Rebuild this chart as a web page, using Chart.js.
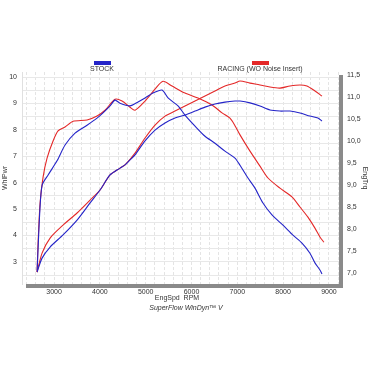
<!DOCTYPE html>
<html>
<head>
<meta charset="utf-8">
<script src="https://cdn.jsdelivr.net/npm/chart.js@4/dist/chart.umd.min.js"></script>
<style>
html,body{margin:0;padding:0;background:#fff;}
#wrap{width:370px;height:370px;}
</style>
</head>
<body>
<div id="wrap"><canvas id="c" width="370" height="370"></canvas></div>
<script>
// ---- data ----
const seriesNames = ["STOCK", "RACING (WO Noise Insert)"];
const xTitle = "EngSpd  RPM";
const footerText = "SuperFlow WinDyn\u2122 V";
const leftTitle = "WhlPwr";
const rightTitle = "EngTrq";

const stockTrqRpm = [2630,2690,2740,2870,3065,3240,3458,3720,3938,4069,4222,4331,4440,4658,4833,4986,5160,5357,5488,5706,5858,6077,6295,6513,6731,6949,7059,7233,7386,7560,7757,7997,8215,8412,8586,8695,8804,8848];
const stockTrq    = [7.05,8.43,9.00,9.23,9.55,9.91,10.18,10.36,10.52,10.64,10.80,10.93,10.86,10.80,10.89,10.98,11.09,11.16,10.98,10.80,10.59,10.34,10.11,9.95,9.77,9.61,9.45,9.16,8.93,8.59,8.32,8.09,7.86,7.68,7.45,7.23,7.07,6.98];

const racingTrqRpm = [2629,2651,2695,2760,2847,2978,3087,3240,3415,3720,3938,4113,4331,4484,4658,4767,4986,5204,5378,5575,5858,6142,6448,6666,6840,6949,7059,7277,7495,7670,7931,8193,8368,8542,8695,8804,8891];
const racingTrq    = [7.02,7.68,8.59,9.18,9.61,10.00,10.23,10.32,10.45,10.48,10.57,10.70,10.95,10.91,10.77,10.70,10.91,11.18,11.36,11.25,11.09,10.98,10.82,10.64,10.52,10.35,10.14,9.77,9.43,9.16,8.93,8.73,8.50,8.27,8.02,7.82,7.70];

const stockPwrRpm = [2629,2738,2913,3196,3502,3786,4004,4222,4440,4549,4658,4767,4986,5204,5422,5640,5858,6077,6295,6513,6731,6949,7059,7277,7495,7713,7931,8150,8368,8586,8760,8848];
const stockPwr    = [2.61,3.14,3.56,4.02,4.58,5.23,5.72,6.29,6.55,6.67,6.86,7.05,7.58,7.99,8.26,8.45,8.56,8.71,8.86,8.98,9.05,9.09,9.09,9.02,8.90,8.75,8.71,8.71,8.64,8.52,8.45,8.33];

const racingPwrRpm = [2629,2738,2913,3196,3502,3786,4004,4222,4440,4549,4767,4986,5204,5422,5640,5858,6077,6295,6513,6731,6949,7059,7277,7495,7713,7931,8150,8368,8520,8695,8848];
const racingPwr    = [2.61,3.33,3.90,4.39,4.85,5.34,5.72,6.29,6.55,6.67,7.12,7.69,8.18,8.52,8.71,8.90,9.09,9.28,9.47,9.66,9.77,9.85,9.77,9.70,9.62,9.58,9.66,9.70,9.66,9.47,9.28];

const xTicks = [3000,4000,5000,6000,7000,8000,9000];
const leftTicks = [3,4,5,6,7,8,9,10];
const rightTicks = [7.0,7.5,8.0,8.5,9.0,9.5,10.0,10.5,11.0,11.5];

// ---- helpers ----
const BLUE = "#2424c8";
const RED = "#e42828";
const pts = (xs, ys) => xs.map((x, i) => ({x: x, y: ys[i]}));
const FONT = "'Liberation Sans', Arial, sans-serif";

function gridTicks(min, max, step) {
  const out = [];
  for (let v = Math.ceil(min / step) * step; v <= max + 1e-9; v += step) out.push({value: +v.toFixed(4)});
  return out;
}

const decor = {
  id: "decor",
  afterDraw(chart) {
    const ctx = chart.ctx, a = chart.chartArea;
    ctx.save();
    // shadow frame
    ctx.fillStyle = "#8a8a8a";
    ctx.fillRect(a.left + 4, a.bottom, a.right - a.left, 4);
    ctx.fillRect(a.right, a.top + 3, 4, a.bottom - a.top + 1);
    // legend
    const items = [{label: seriesNames[0], color: BLUE, cx: 102}, {label: seriesNames[1], color: RED, cx: 260}];
    ctx.font = "7px " + FONT;
    ctx.textAlign = "center";
    ctx.textBaseline = "middle";
    items.forEach(it => {
      ctx.fillStyle = it.color;
      ctx.fillRect(it.cx - 8, 61, 17, 4);
      ctx.fillStyle = "#333";
      ctx.fillText(it.label, it.cx, 69);
    });
    // x title + footer
    const cx = chart.width / 2 - 8;
    ctx.fillStyle = "#333";
    ctx.font = "7px " + FONT;
    ctx.fillText(xTitle, cx, 298);
    ctx.font = "italic 7px " + FONT;
    ctx.fillText(footerText, cx + 9, 308);
    ctx.restore();
  }
};

const ds = (label, xs, ys, color, axis) => ({
  label: label, data: pts(xs, ys), borderColor: color, backgroundColor: color,
  borderWidth: 1.1, pointRadius: 0, tension: 0.25, yAxisID: axis, fill: false
});

new Chart(document.getElementById("c"), {
  type: "line",
  data: {
    datasets: [
      ds(seriesNames[0] + " " + rightTitle, stockTrqRpm, stockTrq, BLUE, "yR"),
      ds(seriesNames[0] + " " + leftTitle, stockPwrRpm, stockPwr, BLUE, "yL"),
      ds(seriesNames[1] + " " + rightTitle, racingTrqRpm, racingTrq, RED, "yR"),
      ds(seriesNames[1] + " " + leftTitle, racingPwrRpm, racingPwr, RED, "yL")
    ]
  },
  options: {
    responsive: false,
    animation: false,
    layout: {padding: {top: 72, left: 0, right: 0, bottom: 0}},
    plugins: {legend: {display: false}, tooltip: {enabled: false}},
    scales: {
      x: {
        type: "linear", min: 2300, max: 9220,
        afterBuildTicks: s => { s.ticks = gridTicks(2400, 9200, 200); },
        afterFit: s => { s.height = 86; },
        grid: {color: "#e4e4e4", lineWidth: 1, drawTicks: false},
        border: {display: false, dash: [3, 2]},
        ticks: {
          padding: 4, color: "#333", font: {size: 7, family: FONT}, autoSkip: false, maxRotation: 0,
          callback: v => xTicks.includes(v) ? String(v) : ""
        }
      },
      yL: {
        position: "left", min: 2.16, max: 10.19,
        afterBuildTicks: s => { s.ticks = gridTicks(2.5, 10, 0.5); },
        afterFit: s => { s.width = 22; },
        grid: {color: "#e8e8e8", drawTicks: false},
        border: {display: true, color: "#e0e0e0"},
        ticks: {
          padding: 5, color: "#333", font: {size: 7, family: FONT}, autoSkip: false,
          callback: v => leftTicks.includes(v) ? String(v) : ""
        },
        title: {display: true, text: leftTitle, color: "#333", font: {size: 7, family: FONT}, padding: {top: 1, bottom: 0}}
      },
      yR: {
        position: "right", min: 6.75, max: 11.57,
        afterBuildTicks: s => { s.ticks = rightTicks.map(v => ({value: v})); },
        afterFit: s => { s.width = 31; },
        grid: {drawOnChartArea: false, drawTicks: false},
        border: {display: false},
        ticks: {
          padding: 8, color: "#333", font: {size: 7, family: FONT}, autoSkip: false,
          callback: v => v.toFixed(1).replace(".", ",")
        },
        title: {display: true, text: rightTitle, color: "#333", font: {size: 7, family: FONT}, padding: {top: 1, bottom: 0}}
      }
    }
  },
  plugins: [decor]
});
</script>
</body>
</html>
